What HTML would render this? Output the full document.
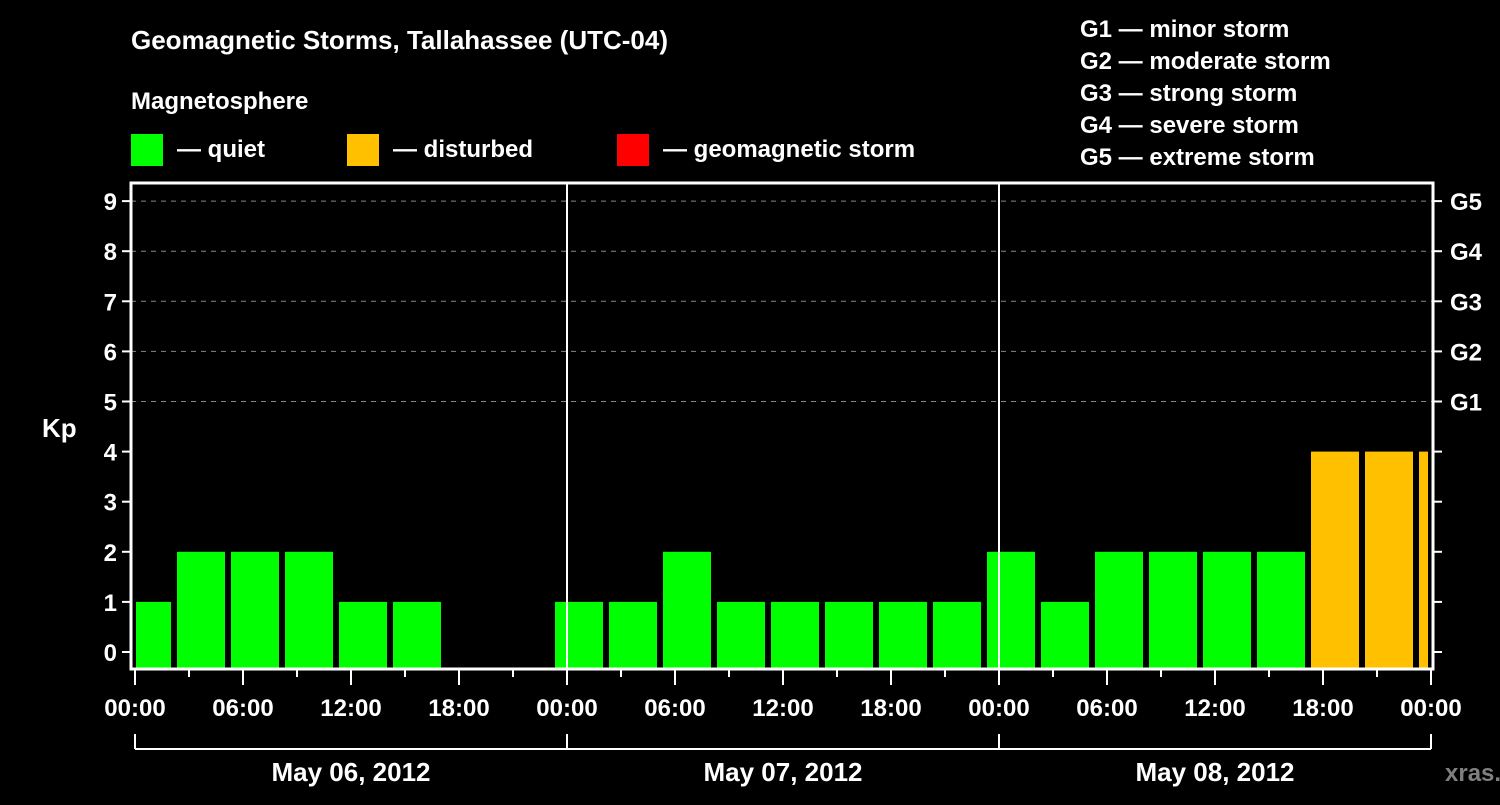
<!DOCTYPE html>
<html><head><meta charset="utf-8"><style>
body{margin:0;background:#000;width:1500px;height:800px;overflow:hidden}
text{font-family:"Liberation Sans",sans-serif;font-weight:bold;fill:#fff}
</style></head><body>
<svg id="c" width="1500" height="800">
<text x="131" y="49" font-size="26">Geomagnetic Storms, Tallahassee (UTC-04)</text>
<text x="131" y="109" font-size="24">Magnetosphere</text>
<g>
<rect x="131" y="134" width="32" height="32" fill="#00ff00"/>
<text x="177" y="157" font-size="24">— quiet</text>
<rect x="347" y="134" width="32" height="32" fill="#ffc000"/>
<text x="393" y="157" font-size="24">— disturbed</text>
<rect x="617" y="134" width="32" height="32" fill="#ff0000"/>
<text x="663" y="157" font-size="24">— geomagnetic storm</text>
</g>
<g font-size="24">
<text x="1080" y="37">G1 — minor storm</text>
<text x="1080" y="69">G2 — moderate storm</text>
<text x="1080" y="101">G3 — strong storm</text>
<text x="1080" y="133">G4 — severe storm</text>
<text x="1080" y="165">G5 — extreme storm</text>
</g>
<text x="42" y="437" font-size="26">Kp</text>
<g id="plot"></g>
<text x="1445" y="781" font-size="24" style="fill:#808080">xras.ru</text>
</svg>
<script>
const kpValues=[1,2,2,2,1,1,null,null,1,1,2,1,1,1,1,1,2,1,2,2,2,2,4,4,4];
const yTicks=[0,1,2,3,4,5,6,7,8,9];
const gLabels=["G1","G2","G3","G4","G5"];
const hourLabels=["00:00","06:00","12:00","18:00","00:00","06:00","12:00","18:00","00:00","06:00","12:00","18:00","00:00"];
const dayLabels=["May 06, 2012","May 07, 2012","May 08, 2012"];
const NS="http://www.w3.org/2000/svg";
const g=document.getElementById('plot');
const L=131,R=1433,T=183,B=669,X0=135,HP=18;
const y=v=>652-50.1*v;
const xh=h=>X0+HP*h;
function mk(t,a,txt){const e=document.createElementNS(NS,t);for(const k in a)e.setAttribute(k,a[k]);if(txt!=null)e.textContent=txt;g.appendChild(e);return e;}
// grid
for(let v=5;v<=9;v++){const e=mk('line',{x1:L,x2:R,y1:y(v),y2:y(v),stroke:'#888','stroke-dasharray':'5,5','stroke-width':1});

}
// bars
kpValues.forEach((v,k)=>{if(v==null)return;
let x1=xh(-1+3*k)+6-6+6, x2=xh(2+3*k);
x1=Math.max(x1,L+5);x2=Math.min(x2,R-5);
const col=v>=5?'#ff0000':(v>=4?'#ffc000':'#00ff00');
const e=mk('rect',{x:x1,y:y(v),width:x2-x1,height:B-y(v),fill:col});

});
// day separators
[1,2].forEach(d=>{const e=mk('line',{x1:xh(24*d),x2:xh(24*d),y1:T,y2:B,stroke:'#fff','stroke-width':2});

});
// frame
const fr=mk('rect',{x:L,y:T,width:R-L,height:B-T,fill:'none',stroke:'#fff','stroke-width':3});


// y ticks
yTicks.forEach(v=>{mk('line',{x1:122,x2:L,y1:y(v),y2:y(v),stroke:'#fff','stroke-width':2});
mk('line',{x1:R,x2:R+9,y1:y(v),y2:y(v),stroke:'#fff','stroke-width':2});
const t=mk('text',{x:117,y:y(v)+9,'font-size':24,'text-anchor':'end'},String(v));

});
gLabels.forEach((s,i)=>{const t=mk('text',{x:1450,y:y(5+i)+9,'font-size':24},s);

});
// x ticks
for(let h=0;h<=72;h+=3){const long=h%6===0;mk('line',{x1:xh(h),x2:xh(h),y1:B,y2:long?685:677,stroke:'#fff','stroke-width':2});}
hourLabels.forEach((s,i)=>{const t=mk('text',{x:xh(6*i),y:716,'font-size':24,'text-anchor':'middle'},s);

});
mk('line',{x1:xh(0),x2:xh(72),y1:749,y2:749,stroke:'#fff','stroke-width':2});
for(let d=0;d<=3;d++)mk('line',{x1:xh(24*d),x2:xh(24*d),y1:734,y2:749,stroke:'#fff','stroke-width':2});
dayLabels.forEach((s,i)=>{const t=mk('text',{x:xh(24*i+12),y:781,'font-size':26,'text-anchor':'middle'},s);

});
</script>
</body></html>
